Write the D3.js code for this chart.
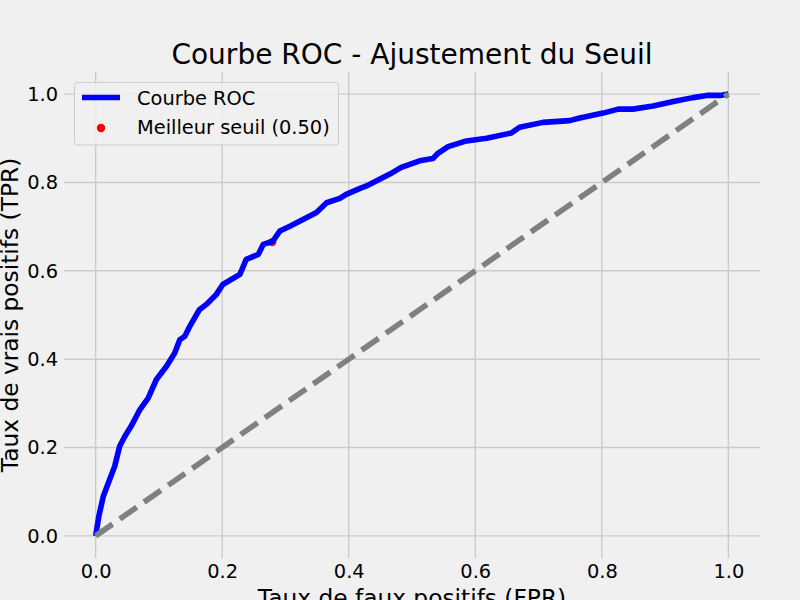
<!DOCTYPE html>
<html>
<head>
<meta charset="utf-8">
<script src="https://cdn.jsdelivr.net/npm/d3@7.9.0/dist/d3.min.js"></script>
<style>
  body { margin: 0; background: #f0f0f0; }
  svg { display: block; font-family: "DejaVu Sans", sans-serif; }
</style>
</head>
<body>
<svg width="800" height="600"></svg>
<script>
// ROC curve points
const fpr = [0, 0.005, 0.012, 0.022, 0.030, 0.038, 0.046, 0.056, 0.070, 0.083, 0.096, 0.112, 0.125, 0.133, 0.141, 0.149, 0.164, 0.175, 0.190, 0.201, 0.228, 0.238, 0.257, 0.265, 0.280, 0.291, 0.307, 0.333, 0.349, 0.365, 0.386, 0.396, 0.417, 0.428, 0.465, 0.483, 0.512, 0.533, 0.541, 0.557, 0.586, 0.618, 0.657, 0.670, 0.707, 0.749, 0.765, 0.802, 0.826, 0.849, 0.881, 0.913, 0.944, 0.966, 0.987, 1.0];
const tpr = [0, 0.044, 0.089, 0.127, 0.157, 0.203, 0.225, 0.248, 0.286, 0.312, 0.354, 0.384, 0.414, 0.444, 0.452, 0.475, 0.512, 0.524, 0.545, 0.569, 0.592, 0.626, 0.637, 0.660, 0.667, 0.690, 0.701, 0.720, 0.732, 0.754, 0.764, 0.773, 0.786, 0.792, 0.819, 0.834, 0.849, 0.854, 0.866, 0.881, 0.894, 0.900, 0.912, 0.925, 0.936, 0.940, 0.946, 0.957, 0.966, 0.966, 0.973, 0.983, 0.992, 0.997, 0.997, 1.0];
const diagonal = [0, 1];
const bestPoint = [0.279, 0.665];
const bestLabel = "Meilleur seuil (0.50)";
const ticks = [0, 0.2, 0.4, 0.6, 0.8, 1.0];

const svg = d3.select('svg');
const plotLeft = 64, plotRight = 760, plotTop = 72, plotBottom = 558;

const x = d3.scaleLinear().domain([-0.05, 1.05]).range([plotLeft, plotRight]);
const y = d3.scaleLinear().domain([-0.05, 1.05]).range([plotBottom, plotTop]);

// grid
const grid = svg.append('g');
ticks.forEach(t => {
  grid.append('line').attr('x1', x(t)).attr('x2', x(t)).attr('y1', plotTop).attr('y2', plotBottom)
    .attr('stroke', '#cbcbcb').attr('stroke-width', 1.4);
  grid.append('line').attr('x1', plotLeft).attr('x2', plotRight).attr('y1', y(t)).attr('y2', y(t))
    .attr('stroke', '#cbcbcb').attr('stroke-width', 1.4);
});

// axes (no spines, just labels)
const xAxis = svg.append('g').attr('transform', `translate(0,${plotBottom})`)
  .call(d3.axisBottom(x).tickValues(ticks).tickFormat(d3.format('.1f')).tickSize(0).tickPadding(6));
const yAxis = svg.append('g').attr('transform', `translate(${plotLeft},0)`)
  .call(d3.axisLeft(y).tickValues(ticks).tickFormat(d3.format('.1f')).tickSize(0).tickPadding(6));
[xAxis, yAxis].forEach(a => {
  a.select('.domain').remove();
  a.selectAll('text').attr('font-size', '19.4px').attr('fill', '#000')
    .attr('font-family', '"DejaVu Sans", sans-serif');
});

// best threshold point (drawn below lines, like scatter)
svg.append('circle')
  .attr('cx', x(bestPoint[0])).attr('cy', y(bestPoint[1])).attr('r', 4.2)
  .attr('fill', 'red');

// ROC curve
const rocData = fpr.map((f, i) => [f, tpr[i]]);
const line = d3.line().x(d => x(d[0])).y(d => y(d[1]));
svg.append('path').datum(rocData).attr('d', line)
  .attr('fill', 'none').attr('stroke', 'blue').attr('stroke-width', 5.6)
  .attr('stroke-linejoin', 'round');

// random classifier diagonal
svg.append('path').datum(diagonal.map(d => [d, d])).attr('d', line)
  .attr('fill', 'none').attr('stroke', 'gray').attr('stroke-width', 5.6)
  .attr('stroke-dasharray', '20.6,8.9');

// title and labels
svg.append('text').attr('x', (plotLeft + plotRight) / 2).attr('y', 64)
  .attr('text-anchor', 'middle').attr('font-size', '28px')
  .text('Courbe ROC - Ajustement du Seuil');
svg.append('text').attr('x', (plotLeft + plotRight) / 2).attr('y', 606)
  .attr('text-anchor', 'middle').attr('font-size', '23.3px')
  .text('Taux de faux positifs (FPR)');
svg.append('text').attr('transform', `translate(18,${(plotTop + plotBottom) / 2}) rotate(-90)`)
  .attr('text-anchor', 'middle').attr('font-size', '23.3px')
  .text('Taux de vrais positifs (TPR)');

// legend
const lg = svg.append('g');
lg.append('rect').attr('x', 74.5).attr('y', 82.5).attr('width', 264).attr('height', 62.5)
  .attr('rx', 3).attr('fill', '#f0f0f0').attr('fill-opacity', 0.8)
  .attr('stroke', '#cccccc').attr('stroke-width', 1);
lg.append('line').attr('x1', 82).attr('x2', 120).attr('y1', 97.5).attr('y2', 97.5)
  .attr('stroke', 'blue').attr('stroke-width', 5.6);
lg.append('text').attr('x', 137).attr('y', 104.5).attr('font-size', '19.4px').text('Courbe ROC');
lg.append('circle').attr('cx', 101).attr('cy', 128).attr('r', 4.2).attr('fill', 'red');
lg.append('text').attr('x', 137).attr('y', 134).attr('font-size', '19.4px').text(bestLabel);
</script>
</body>
</html>
